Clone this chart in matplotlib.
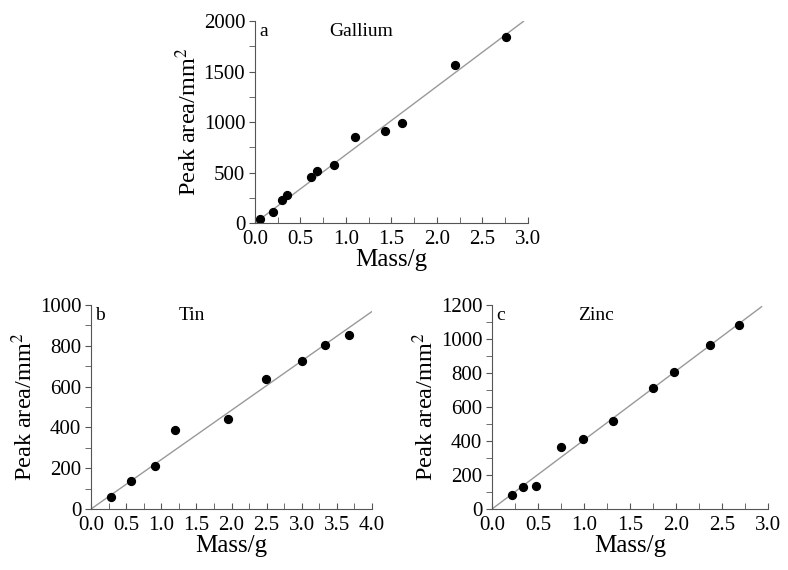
import matplotlib.pyplot as plt
from matplotlib.ticker import MultipleLocator

plt.rcParams['font.family'] = ['Liberation Serif', 'DejaVu Serif']
plt.rcParams['mathtext.fontset'] = 'stix'

# Gallium
ga_mass = [0.05, 0.20, 0.30, 0.35, 0.62, 0.68, 0.87, 1.10, 1.43, 1.62, 2.20, 2.76]
ga_area = [35, 110, 230, 280, 460, 515, 575, 850, 910, 995, 1565, 1845]
ga_slope = 677
ga_fit_end = 2.95

# Tin
sn_mass = [0.29, 0.57, 0.91, 1.20, 1.95, 2.49, 3.01, 3.33, 3.67]
sn_area = [60, 135, 210, 388, 440, 638, 726, 805, 853]
sn_slope = 242
sn_fit_end = 4.0

# Zinc
zn_mass = [0.22, 0.34, 0.48, 0.75, 0.99, 1.32, 1.75, 1.98, 2.37, 2.69]
zn_area = [82, 129, 135, 366, 413, 520, 713, 803, 965, 1085]
zn_slope = 406
zn_fit_end = 2.93


def panel(ax, x, y, slope, xend, letter, name, name_x, xmax, ymax, ymaj, ymin):
    ax.plot([0, xend], [0, slope * xend], color='#999999', lw=1.0, zorder=1)
    ax.scatter(x, y, s=32, color='black', zorder=2)
    ax.set_xlim(0, xmax)
    ax.set_ylim(0, ymax)
    ax.xaxis.set_major_locator(MultipleLocator(0.5))
    ax.xaxis.set_minor_locator(MultipleLocator(0.25))
    ax.yaxis.set_major_locator(MultipleLocator(ymaj))
    ax.yaxis.set_minor_locator(MultipleLocator(ymin))
    ax.xaxis.set_major_formatter(plt.FormatStrFormatter('%.1f'))
    ax.spines['top'].set_visible(False)
    ax.spines['right'].set_visible(False)
    for s in ['left', 'bottom']:
        ax.spines[s].set_color('#555555')
    ax.tick_params(axis='x', which='both', direction='in', length=4, color='#555555', labelsize=15, pad=5)
    ax.tick_params(axis='y', which='both', direction='out', length=4, color='#555555', labelsize=15, pad=3)
    ax.set_xlabel('Mass/g', fontsize=18, labelpad=0)
    ax.set_ylabel('Peak area/mm$^{2}$', fontsize=17.5, labelpad=2)
    ax.text(0.015, 0.99, letter, transform=ax.transAxes, fontsize=14, va='top', ha='left')
    ax.text(name_x, 0.99, name, transform=ax.transAxes, fontsize=14, va='top', ha='center')


fig = plt.figure(figsize=(7.88, 5.70), dpi=100)
ax_a = fig.add_axes([0.3236, 0.6088, 0.3464, 0.3542])
ax_b = fig.add_axes([0.1155, 0.107, 0.3566, 0.358])
ax_c = fig.add_axes([0.6244, 0.107, 0.3502, 0.358])

panel(ax_a, ga_mass, ga_area, ga_slope, ga_fit_end, 'a', 'Gallium', 0.39, 3.0, 2000, 500, 250)
panel(ax_b, sn_mass, sn_area, sn_slope, sn_fit_end, 'b', 'Tin', 0.36, 4.0, 1000, 200, 100)
panel(ax_c, zn_mass, zn_area, zn_slope, zn_fit_end, 'c', 'Zinc', 0.377, 3.0, 1200, 200, 100)

fig.savefig('out.png', dpi=100)
